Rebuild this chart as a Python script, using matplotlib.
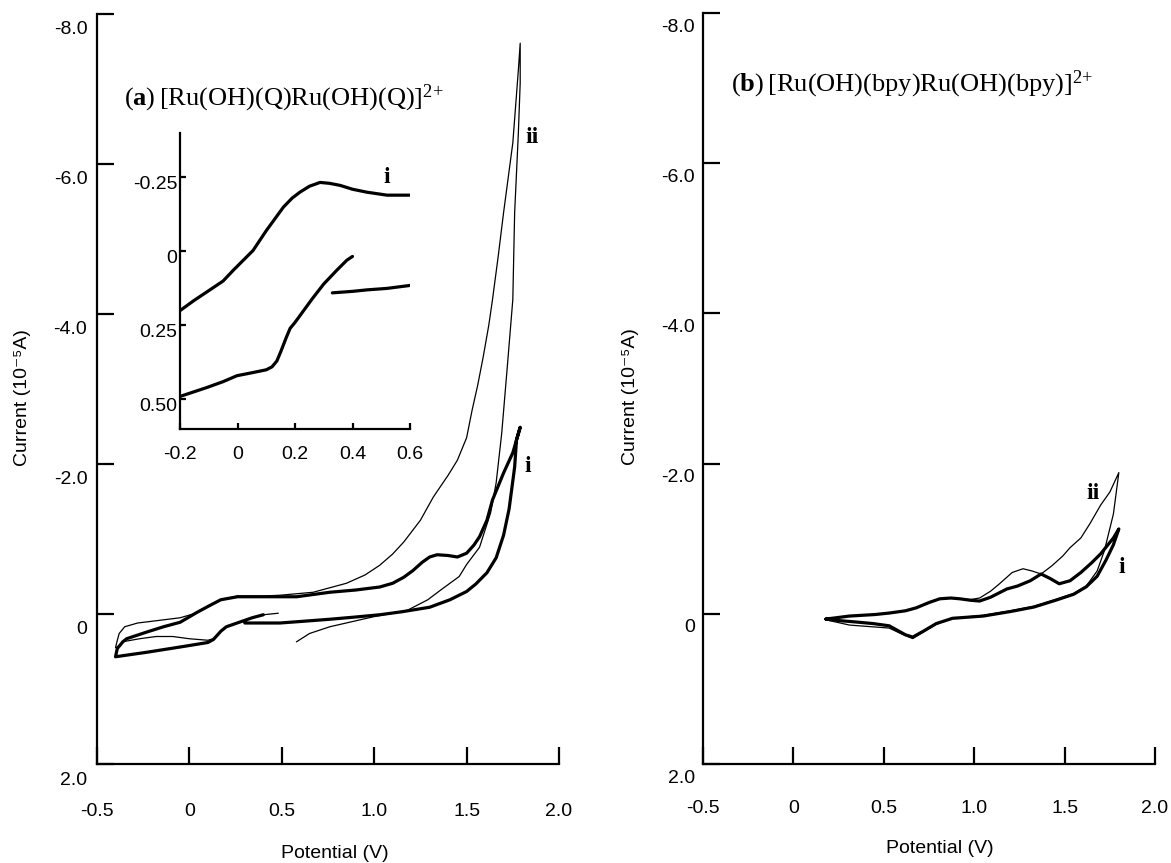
import matplotlib
matplotlib.use('Agg')
import matplotlib.pyplot as plt
import matplotlib.transforms as mtransforms

plt.rcParams['font.family'] = ['Liberation Sans', 'DejaVu Sans']
plt.rcParams['mathtext.fontset'] = 'custom'
plt.rcParams['mathtext.rm'] = 'Liberation Serif'
plt.rcParams['mathtext.bf'] = 'Liberation Serif:bold'

# ---- data (potential in V, current in 1e-5 A) ----
# panel (a), curve i (thick)
a_i_v = [0.40, 0.34, 0.27, 0.20, 0.17, 0.13, 0.10, -0.05, -0.23, -0.40,
         -0.39, -0.36, -0.34, -0.23, -0.14, -0.05, 0.04, 0.10, 0.17, 0.26,
         0.40, 0.58, 0.76, 0.90, 1.03, 1.10, 1.16, 1.21, 1.26, 1.30, 1.34,
         1.40, 1.45, 1.50, 1.54, 1.57, 1.61, 1.64, 1.70, 1.75, 1.79,
         1.77, 1.76, 1.73, 1.70, 1.66, 1.61, 1.55, 1.50, 1.41, 1.30, 1.15,
         1.03, 0.90, 0.76, 0.60, 0.49, 0.38, 0.30]
a_i_cur = [0.01, 0.05, 0.11, 0.17, 0.23, 0.34, 0.38, 0.44, 0.51, 0.57,
           0.46, 0.37, 0.33, 0.24, 0.17, 0.11, -0.02, -0.10, -0.19, -0.23,
           -0.23, -0.23, -0.29, -0.32, -0.36, -0.41, -0.49, -0.58, -0.69,
           -0.76, -0.79, -0.78, -0.76, -0.81, -0.92, -1.03, -1.25, -1.52,
           -1.88, -2.15, -2.49,
           -2.32, -1.96, -1.40, -1.05, -0.75, -0.55, -0.40, -0.30, -0.19,
           -0.09, -0.03, 0.01, 0.04, 0.07, 0.10, 0.12, 0.12, 0.12]

# panel (a), curve ii (thin)
a_ii_v = [0.48, 0.40, 0.34, 0.27, 0.20, 0.17, 0.13, 0.10, 0.00, -0.09,
          -0.18, -0.27, -0.36, -0.39, -0.40, -0.39, -0.38, -0.35, -0.28,
          -0.18, -0.05, 0.02, 0.10, 0.17, 0.26, 0.40, 0.49, 0.67, 0.85,
          0.95, 1.03, 1.10, 1.16, 1.25, 1.32, 1.40, 1.45, 1.50, 1.53, 1.56,
          1.59, 1.62, 1.64, 1.67, 1.70, 1.75, 1.78, 1.79,
          1.79, 1.78, 1.76, 1.75, 1.72, 1.69, 1.66, 1.63, 1.57, 1.50, 1.46,
          1.36, 1.29, 1.18, 0.99, 0.76, 0.65, 0.58]
a_ii_cur = [-0.01, 0.01, 0.05, 0.11, 0.17, 0.23, 0.33, 0.35, 0.33, 0.30,
            0.30, 0.33, 0.37, 0.44, 0.45, 0.35, 0.26, 0.17, 0.12,
            0.09, 0.05, 0.00, -0.10, -0.19, -0.24, -0.24, -0.25, -0.29, -0.41,
            -0.52, -0.65, -0.80, -0.96, -1.25, -1.56, -1.85, -2.05, -2.35,
            -2.72, -3.05, -3.43, -3.85, -4.19, -4.75, -5.35, -6.28, -7.25,
            -7.61,
            -7.08, -6.41, -5.35, -4.19, -3.29, -2.41, -1.75, -1.35, -0.89,
            -0.66, -0.50, -0.32, -0.19, -0.05, 0.04, 0.17, 0.26, 0.37]

# inset of panel (a), curve i
ins_up_v = [-0.20, -0.15, -0.096, -0.05, -0.015, 0.02, 0.054, 0.10, 0.13,
            0.16, 0.19, 0.217, 0.25, 0.287, 0.32, 0.357, 0.40, 0.45, 0.52,
            0.60]
ins_up_cur = [0.20, 0.165, 0.13, 0.10, 0.064, 0.03, -0.003, -0.07, -0.11,
              -0.15, -0.18, -0.20, -0.22, -0.233, -0.23, -0.223, -0.21,
              -0.20, -0.19, -0.19]
ins_low_v = [-0.20, -0.107, -0.05, -0.002, 0.05, 0.10, 0.12, 0.137, 0.15,
             0.17, 0.183, 0.20, 0.23, 0.26, 0.30, 0.345, 0.38, 0.40]
ins_low_cur = [0.49, 0.46, 0.44, 0.42, 0.41, 0.40, 0.39, 0.37, 0.34, 0.29,
               0.26, 0.24, 0.20, 0.16, 0.11, 0.064, 0.03, 0.017]
ins_tail_v = [0.33, 0.40, 0.45, 0.52, 0.60]
ins_tail_cur = [0.14, 0.135, 0.13, 0.125, 0.115]

# panel (b), curve i (thick)
b_i_v = [0.18, 0.31, 0.45, 0.53, 0.62, 0.68, 0.75, 0.81, 0.87, 0.92, 0.98,
         1.03, 1.09, 1.18, 1.24, 1.31, 1.37, 1.42, 1.47, 1.53, 1.59, 1.65,
         1.70, 1.77, 1.80,
         1.77, 1.73, 1.68, 1.62, 1.55, 1.45, 1.33, 1.20, 1.05, 0.88, 0.79,
         0.72, 0.66, 0.62, 0.59, 0.53, 0.44, 0.35, 0.25, 0.18]
b_i_cur = [0.07, 0.03, 0.01, -0.01, -0.04, -0.08, -0.15, -0.20, -0.21, -0.20,
           -0.18, -0.17, -0.22, -0.33, -0.37, -0.44, -0.53, -0.47, -0.40,
           -0.44, -0.55, -0.68, -0.80, -1.01, -1.13,
           -0.92, -0.72, -0.50, -0.36, -0.26, -0.18, -0.09, -0.03, 0.03,
           0.06, 0.13, 0.23, 0.31, 0.28, 0.24, 0.16, 0.13, 0.11, 0.09, 0.07]

# panel (b), curve ii (thin)
b_ii_v = [0.18, 0.31, 0.45, 0.53, 0.62, 0.68, 0.75, 0.81, 0.87, 0.92, 0.98,
          1.03, 1.09, 1.14, 1.21, 1.27, 1.32, 1.37, 1.43, 1.49, 1.53, 1.59,
          1.64, 1.70, 1.75, 1.80,
          1.77, 1.72, 1.68, 1.62, 1.55, 1.45, 1.33, 1.20, 1.05, 0.88, 0.79,
          0.72, 0.66, 0.60, 0.53, 0.42, 0.31, 0.18]
b_ii_cur = [0.07, 0.03, 0.01, -0.01, -0.04, -0.08, -0.15, -0.20, -0.21, -0.20,
            -0.19, -0.21, -0.30, -0.40, -0.55, -0.60, -0.57, -0.53, -0.64,
            -0.77, -0.88, -1.01, -1.20, -1.45, -1.62, -1.88,
            -1.33, -0.84, -0.57, -0.37, -0.27, -0.19, -0.10, -0.04, 0.02,
            0.06, 0.14, 0.24, 0.33, 0.27, 0.19, 0.17, 0.15, 0.08]

x_ticks = [-0.5, 0, 0.5, 1.0, 1.5, 2.0]
x_labels = ['-0.5', '0', '0.5', '1.0', '1.5', '2.0']
y_ticks = [-8, -6, -4, -2, 0, 2]
y_labels = ['-8.0', '-6.0', '-4.0', '-2.0', '0', '2.0']
ins_x_ticks = [-0.2, 0, 0.2, 0.4, 0.6]
ins_x_labels = ['-0.2', '0', '0.2', '0.4', '0.6']
ins_y_ticks = [-0.25, 0, 0.25, 0.50]
ins_y_labels = ['-0.25', '0', '0.25', '0.50']

W, H = 1171, 863
fig = plt.figure(figsize=(W / 100, H / 100), dpi=100)


def box(x0, y0, x1, y1):
    "pixel box (top-left origin) -> figure fraction rect"
    return [x0 / W, 1 - y1 / H, (x1 - x0) / W, (y1 - y0) / H]


def style(ax, xt, xl, yt, yl, tick_len, pad_x, pad_y, fs, yshift):
    for s in ('top', 'right'):
        ax.spines[s].set_visible(False)
    for s in ('left', 'bottom'):
        ax.spines[s].set_linewidth(1.6)
    ax.set_xticks(xt)
    ax.set_xticklabels(xl)
    ax.set_yticks(yt)
    ax.set_yticklabels(yl)
    ax.tick_params(direction='in', length=tick_len, width=1.6,
                   labelsize=fs)
    ax.tick_params(axis='x', pad=pad_x)
    ax.tick_params(axis='y', pad=pad_y)
    # the labels sit a little below their tick marks in the original
    off = mtransforms.ScaledTranslation(0, -yshift / 100,
                                        fig.dpi_scale_trans)
    for lbl in ax.get_yticklabels():
        lbl.set_transform(lbl.get_transform() + off)
    ax.patch.set_visible(False)


def tag(ax, x, y, s):
    ax.text(x, y, s, family='Liberation Serif', weight='bold',
            fontsize=17, ha='center', va='center')


THICK, THIN = 2.3, 0.9
ylab = 'Current (10\u207b\u2075A)'

# ---- panel (a) ----
axA = fig.add_axes(box(97, 14, 559, 764))
axA.set_xlim(-0.5, 2.0)
axA.set_ylim(2.0, -8.0)
style(axA, x_ticks, x_labels, y_ticks, y_labels, 12, 28, 7, 14, 14)
axA.plot(a_ii_v, a_ii_cur, color='black', lw=THIN, solid_joinstyle='round')
axA.plot(a_i_v, a_i_cur, color='black', lw=THICK, solid_joinstyle='round',
         solid_capstyle='round')
axA.set_xlabel('Potential (V)', fontsize=14, va='center')
axA.xaxis.set_label_coords(0.515, -0.119)
axA.set_ylabel(ylab, fontsize=14, va='center')
axA.yaxis.set_label_coords(-0.162, 0.489)
axA.text(-0.354, -6.88,
         r'$\mathrm{(}\mathbf{a}\mathrm{)\,[Ru(OH)(Q)Ru(OH)(Q)]^{2{+}}}$',
         fontsize=19, va='center', ha='left')
tag(axA, 1.854, -6.35, 'ii')
tag(axA, 1.832, -1.96, 'i')

# ---- inset ----
axI = fig.add_axes(box(180, 133, 410, 429))
axI.set_xlim(-0.2, 0.6)
axI.set_ylim(0.6, -0.4)
style(axI, ins_x_ticks, ins_x_labels, ins_y_ticks, ins_y_labels,
      4, 12, 2, 14, 5)
axI.plot(ins_up_v, ins_up_cur, color='black', lw=THICK,
         solid_capstyle='round')
axI.plot(ins_low_v, ins_low_cur, color='black', lw=THICK,
         solid_capstyle='round')
axI.plot(ins_tail_v, ins_tail_cur, color='black', lw=THICK,
         solid_capstyle='round')
tag(axI, 0.52, -0.25, 'i')

# ---- panel (b) ----
axB = fig.add_axes(box(703, 13, 1155, 764))
axB.set_xlim(-0.5, 2.0)
axB.set_ylim(2.0, -8.0)
style(axB, x_ticks, x_labels, y_ticks, y_labels, 12, 26, 6, 14, 12)
axB.plot(b_ii_v, b_ii_cur, color='black', lw=THIN, solid_joinstyle='round')
axB.plot(b_i_v, b_i_cur, color='black', lw=THICK, solid_joinstyle='round',
         solid_capstyle='round')
axB.set_xlabel('Potential (V)', fontsize=14, va='center')
axB.xaxis.set_label_coords(0.524, -0.112)
axB.set_ylabel(ylab, fontsize=14, va='center')
axB.yaxis.set_label_coords(-0.16, 0.489)
axB.text(-0.345, -7.05,
         r'$\mathrm{(}\mathbf{b}\mathrm{)\,[Ru(OH)(bpy)Ru(OH)(bpy)]^{2{+}}}$',
         fontsize=19, va='center', ha='left')
tag(axB, 1.657, -1.6, 'ii')
tag(axB, 1.818, -0.61, 'i')

fig.savefig('out.png', dpi=100)
